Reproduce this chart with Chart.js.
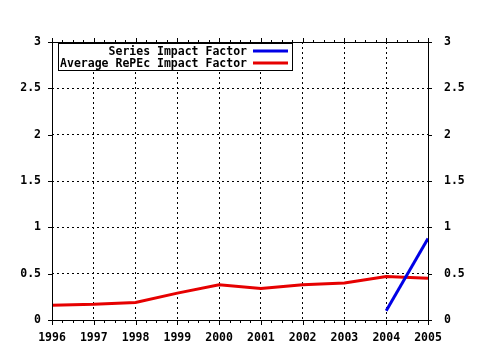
<!DOCTYPE html>
<html>
<head>
<meta charset="utf-8">
<script src="https://cdn.jsdelivr.net/npm/chart.js@4/dist/chart.umd.min.js"></script>
<style>
  html, body { margin: 0; padding: 0; background: #fff; }
  #wrap { width: 480px; height: 350px; }
</style>
</head>
<body>
<div id="wrap"><canvas id="impact-chart" width="480" height="350"></canvas></div>
<script>
'use strict';

var years = [1996, 1997, 1998, 1999, 2000, 2001, 2002, 2003, 2004, 2005];
var seriesLabels = ['Series Impact Factor', 'Average RePEc Impact Factor'];
var seriesImpact = [null, null, null, null, null, null, null, null, 0.10, 0.88];
var averageImpact = [0.16, 0.17, 0.19, 0.29, 0.38, 0.34, 0.38, 0.40, 0.47, 0.45];
var yTicks = [0, 0.5, 1, 1.5, 2, 2.5, 3];

var FONT = 'bold 11.5px "DejaVu Sans Mono", "Liberation Mono", monospace';

function toPoints(values) {
    return years.map(function (yr, i) {
        return { x: yr, y: values[i] };
    });
}

function fmt(v) {
    return String(v);
}

// frame, tick marks and the boxed legend, gnuplot style
var framePlugin = {
    id: 'frame',
    afterDraw: function (chart) {
        var ctx = chart.ctx;
        var a = chart.chartArea;
        var xs = chart.scales.x;
        var ys = chart.scales.y;
        ctx.save();
        ctx.strokeStyle = '#000';
        ctx.lineWidth = 1;
        ctx.strokeRect(Math.round(a.left) + 0.5, Math.round(a.top) + 0.5,
            Math.round(a.right - a.left), Math.round(a.bottom - a.top));

        ctx.beginPath();
        years.forEach(function (yr, i) {
            var px = Math.round(xs.getPixelForValue(yr)) + 0.5;
            ctx.moveTo(px, a.bottom); ctx.lineTo(px, a.bottom + 5);
            ctx.moveTo(px, a.top); ctx.lineTo(px, a.top - 4);
            if (i < years.length - 1) {
                for (var k = 1; k < 4; k++) {
                    var mx = Math.round(xs.getPixelForValue(yr + k / 4)) + 0.5;
                    ctx.moveTo(mx, a.bottom); ctx.lineTo(mx, a.bottom + 3);
                    ctx.moveTo(mx, a.top); ctx.lineTo(mx, a.top - 2);
                }
            }
        });
        yTicks.forEach(function (v) {
            var py = Math.round(ys.getPixelForValue(v)) + 0.5;
            ctx.moveTo(a.left, py); ctx.lineTo(a.left - 4, py);
            ctx.moveTo(a.right, py); ctx.lineTo(a.right + 4, py);
        });
        ctx.stroke();

        // legend box
        var bx = 58.5, by = 43.5, bw = 234, bh = 27;
        ctx.fillStyle = '#fff';
        ctx.fillRect(bx, by, bw, bh);
        ctx.strokeRect(bx, by, bw, bh);
        ctx.font = FONT;
        ctx.textAlign = 'right';
        ctx.textBaseline = 'middle';
        chart.data.datasets.forEach(function (ds, i) {
            var ry = by + 7.5 + i * 12;
            ctx.fillStyle = '#000';
            ctx.fillText(ds.label, 247, ry + 1);
            ctx.strokeStyle = ds.borderColor;
            ctx.lineWidth = 3;
            ctx.beginPath();
            ctx.moveTo(253, ry);
            ctx.lineTo(288, ry);
            ctx.stroke();
        });
        ctx.restore();
    }
};

var gridOpts = {
    color: '#000',
    lineWidth: 1,
    drawTicks: false
};

new Chart(document.getElementById('impact-chart'), {
    type: 'line',
    data: {
        datasets: [
            {
                label: seriesLabels[0],
                data: toPoints(seriesImpact),
                borderColor: '#0000e6',
                borderWidth: 3,
                pointRadius: 0,
                tension: 0,
                spanGaps: false
            },
            {
                label: seriesLabels[1],
                data: toPoints(averageImpact),
                borderColor: '#e60000',
                borderWidth: 3,
                pointRadius: 0,
                tension: 0
            }
        ]
    },
    options: {
        responsive: false,
        animation: false,
        events: [],
        layout: { padding: { top: 42, left: 0, right: 0, bottom: 0 } },
        plugins: {
            legend: { display: false },
            tooltip: { enabled: false }
        },
        scales: {
            x: {
                type: 'linear',
                min: years[0],
                max: years[years.length - 1],
                afterBuildTicks: function (scale) {
                    scale.ticks = years.map(function (v) { return { value: v }; });
                },
                afterFit: function (scale) { scale.height = 30; },
                grid: gridOpts,
                border: { display: false, dash: [2, 3] },
                ticks: {
                    color: '#000',
                    font: { family: '"DejaVu Sans Mono"', size: 11.5, weight: 'bold' },
                    padding: 11,
                    maxRotation: 0,
                    autoSkip: false,
                    callback: function (v) { return String(v); }
                }
            },
            y: {
                position: 'left',
                min: 0,
                max: 3,
                afterBuildTicks: function (scale) {
                    scale.ticks = yTicks.map(function (v) { return { value: v }; });
                },
                afterFit: function (scale) { scale.width = 52; },
                grid: gridOpts,
                border: { display: false, dash: [2, 3] },
                ticks: {
                    color: '#000',
                    font: { family: '"DejaVu Sans Mono"', size: 11.5, weight: 'bold' },
                    padding: 11,
                    callback: fmt
                }
            },
            y2: {
                position: 'right',
                min: 0,
                max: 3,
                afterBuildTicks: function (scale) {
                    scale.ticks = yTicks.map(function (v) { return { value: v }; });
                },
                afterFit: function (scale) { scale.width = 52; },
                grid: { display: false, drawTicks: false },
                border: { display: false },
                ticks: {
                    color: '#000',
                    font: { family: '"DejaVu Sans Mono"', size: 11.5, weight: 'bold' },
                    padding: 16,
                    callback: fmt
                }
            }
        }
    },
    plugins: [framePlugin]
});
</script>
</body>
</html>
